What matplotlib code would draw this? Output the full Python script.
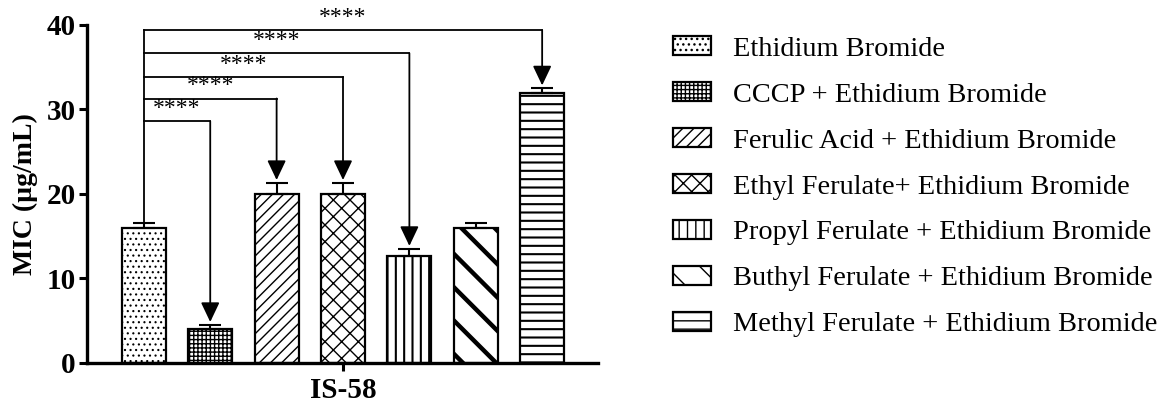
import numpy as np
import matplotlib
matplotlib.use('Agg')
import matplotlib.pyplot as plt

# MIC values for isolate IS-58 (mean and upper error)
labels = ['Ethidium Bromide',
          'CCCP + Ethidium Bromide',
          'Ferulic Acid + Ethidium Bromide',
          'Ethyl Ferulate+ Ethidium Bromide',
          'Propyl Ferulate + Ethidium Bromide',
          'Buthyl Ferulate + Ethidium Bromide',
          'Methyl Ferulate + Ethidium Bromide']
mic = [16.0, 4.0, 20.0, 20.0, 12.67, 16.0, 32.0]
err = [0.55, 0.5, 1.3, 1.3, 0.83, 0.55, 0.5]
group = 'IS-58'

# comparisons against ethidium bromide alone: (target bar, bracket height)
comparisons = [(1, 28.6), (2, 31.3), (3, 33.85), (4, 36.65), (6, 39.4)]
sig = '****'

hatches = ['...', '++++', '///', 'xx', '||', '\\', '--']
hatch_lw = [0.8, 1.0, 1.0, 1.0, 1.5, 3.2, 1.5]

plt.rcParams['font.family'] = ['Liberation Serif', 'DejaVu Serif']

fig = plt.figure(figsize=(11.61, 4.03), dpi=100)
ax = fig.add_axes([0.0749, 0.0993, 0.4401, 0.8387])

x = np.arange(len(mic))
width = 0.663
bars = []
for i in range(len(mic)):
    with plt.rc_context({'hatch.linewidth': hatch_lw[i]}):
        b = ax.bar(x[i], mic[i], width, color='white', edgecolor='black',
                   hatch=hatches[i], linewidth=1.6, label=labels[i], zorder=2)
    for p in b.patches:
        if hasattr(p, 'set_hatch_linewidth'):
            p.set_hatch_linewidth(hatch_lw[i])
    bars.append(b)

ax.errorbar(x, mic, yerr=[np.zeros(len(err)), err], fmt='none', ecolor='black',
            elinewidth=1.5, capsize=8, capthick=1.5, zorder=3)

# significance brackets from the first bar
lw = 1.3
top = max(h for _, h in comparisons)
ax.plot([0, 0], [mic[0] + err[0], top], color='black', lw=lw, zorder=4)
for tgt, h in comparisons:
    ax.plot([0, x[tgt]], [h, h], color='black', lw=lw, zorder=4, clip_on=False)
    tip = mic[tgt] + err[tgt] + 0.35
    ax.annotate('', xy=(x[tgt], tip), xytext=(x[tgt], h),
                arrowprops=dict(arrowstyle='-|>,head_length=0.8,head_width=0.38',
                                mutation_scale=15, color='black', lw=lw,
                                shrinkA=0, shrinkB=0), zorder=4)
    ax.text(x[tgt] / 2, h + 0.25, sig, ha='center', va='bottom', fontsize=17,
            clip_on=False)

ax.set_xlim(-0.857, 6.84)
ax.set_ylim(0, 40)
ax.set_yticks([0, 10, 20, 30, 40])
ax.set_xticks([3])
ax.set_xticklabels([group])
for lab in ax.get_yticklabels() + ax.get_xticklabels():
    lab.set_fontweight('bold')
    lab.set_fontsize(21)
ax.tick_params(axis='y', length=6, width=2.2, pad=2)
ax.tick_params(axis='x', direction='inout', length=12, width=2.2, pad=4)
ax.set_ylabel('MIC (µg/mL)', fontsize=20, fontweight='bold', labelpad=6)
for s in ['top', 'right']:
    ax.spines[s].set_visible(False)
for s in ['left', 'bottom']:
    ax.spines[s].set_linewidth(2.4)

fig.legend(handles=bars, labels=labels, loc='upper left',
           bbox_to_anchor=(673 / 1161, 1 - 36 / 403), frameon=False,
           fontsize=20.4, handlelength=1.34, handleheight=0.67,
           handletextpad=0.78, labelspacing=0.72, borderpad=0, borderaxespad=0)

fig.savefig('out.png', dpi=100)
print('--> out.png')
